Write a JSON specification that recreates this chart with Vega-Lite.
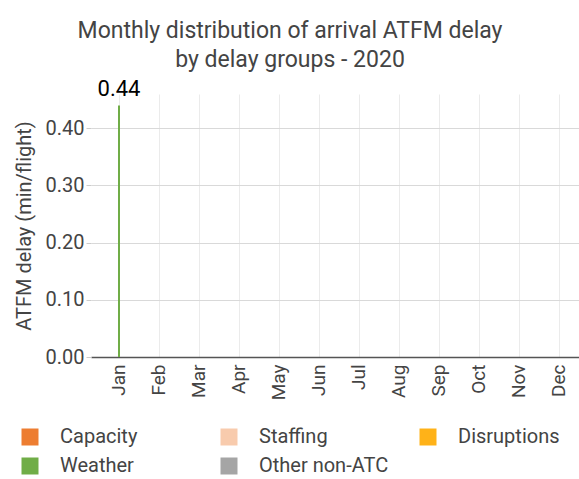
{
  "$schema": "https://vega.github.io/schema/vega-lite/v6.json",
  "autosize": {"type": "none"},
  "padding": {"left": 91, "top": 94, "right": 0, "bottom": 122},
  "width": 488,
  "height": 263,
  "background": "white",
  "config": {
    "font": "Roboto",
    "view": {"stroke": null}
  },
  "title": {
    "text": ["Monthly distribution of arrival ATFM delay", "by delay groups - 2020"],
    "fontSize": 23,
    "fontWeight": "normal",
    "color": "#444444",
    "anchor": "middle",
    "dx": -45,
    "lineHeight": 29,
    "offset": 6
  },
  "data": {
    "values": [
      {"month": "Jan", "group": "Capacity", "delay": 0},
      {"month": "Jan", "group": "Staffing", "delay": 0},
      {"month": "Jan", "group": "Disruptions", "delay": 0},
      {"month": "Jan", "group": "Weather", "delay": 0.44},
      {"month": "Jan", "group": "Other non-ATC", "delay": 0},
      {"month": "Feb", "group": "Weather", "delay": 0},
      {"month": "Mar", "group": "Weather", "delay": 0},
      {"month": "Apr", "group": "Weather", "delay": 0},
      {"month": "May", "group": "Weather", "delay": 0},
      {"month": "Jun", "group": "Weather", "delay": 0},
      {"month": "Jul", "group": "Weather", "delay": 0},
      {"month": "Aug", "group": "Weather", "delay": 0},
      {"month": "Sep", "group": "Weather", "delay": 0},
      {"month": "Oct", "group": "Weather", "delay": 0},
      {"month": "Nov", "group": "Weather", "delay": 0},
      {"month": "Dec", "group": "Weather", "delay": 0}
    ]
  },
  "encoding": {
    "x": {
      "field": "month",
      "type": "ordinal",
      "sort": ["Jan", "Feb", "Mar", "Apr", "May", "Jun", "Jul", "Aug", "Sep", "Oct", "Nov", "Dec"],
      "scale": {"paddingInner": 0, "paddingOuter": 0.1, "align": 1},
      "axis": {
        "title": null,
        "labelAngle": -90,
        "labelFontSize": 19,
        "labelColor": "#444444",
        "labelPadding": 7,
        "ticks": false,
        "domainColor": "#555555",
        "domainWidth": 1.5,
        "grid": true,
        "gridColor": "#ebebeb",
        "bandPosition": 0.5
      }
    }
  },
  "layer": [
    {
      "mark": {"type": "bar", "size": 2},
      "encoding": {
        "y": {
          "field": "delay",
          "type": "quantitative",
          "aggregate": "sum",
          "stack": "zero",
          "scale": {"domain": [0, 0.46], "nice": false},
          "axis": {
            "title": "ATFM delay (min/flight)",
            "titleFontSize": 20,
            "titleFontWeight": "normal",
            "titleColor": "#444444",
            "titlePadding": 11,
            "values": [0, 0.1, 0.2, 0.3, 0.4],
            "format": ".2f",
            "labelFontSize": 20,
            "labelColor": "#444444",
            "labelPadding": 2,
            "tickSize": 5,
            "tickColor": "#cccccc",
            "domain": false,
            "gridColor": "#d9d9d9"
          }
        },
        "color": {
          "field": "group",
          "type": "nominal",
          "scale": {
            "domain": ["Capacity", "Staffing", "Disruptions", "Weather", "Other non-ATC"],
            "range": ["#ED7D31", "#F8CBAD", "#FFB218", "#70AD47", "#A5A5A5"]
          },
          "legend": {
            "title": null,
            "orient": "none",
            "legendX": -71,
            "legendY": 333,
            "direction": "horizontal",
            "columns": 3,
            "gridAlign": "all",
            "symbolType": "square",
            "symbolSize": 289,
            "symbolStrokeWidth": 0,
            "labelFontSize": 20,
            "labelColor": "#444444",
            "labelOffset": 20,
            "columnPadding": 29,
            "rowPadding": 9
          }
        },
        "order": {"field": "group"}
      }
    },
    {
      "transform": [
        {"aggregate": [{"op": "sum", "field": "delay", "as": "total"}], "groupby": ["month"]},
        {"filter": "datum.total > 0"}
      ],
      "mark": {"type": "text", "baseline": "bottom", "dy": -4, "fontSize": 22, "color": "#000000"},
      "encoding": {
        "y": {"field": "total", "type": "quantitative"},
        "text": {"field": "total", "type": "quantitative", "format": ".2f"}
      }
    }
  ]
}
